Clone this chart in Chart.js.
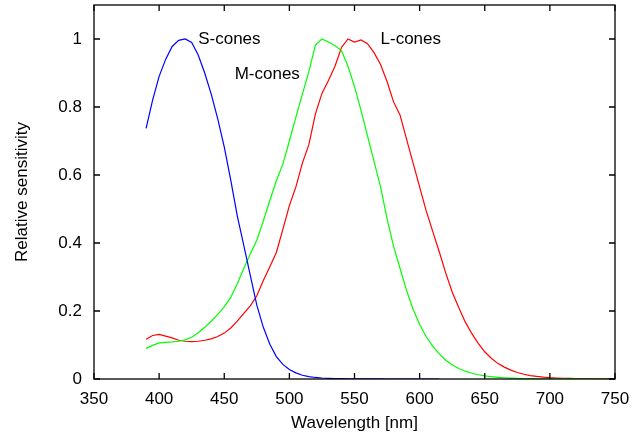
<!DOCTYPE html>
<html>
<head>
<meta charset="utf-8">
<script src="https://cdn.jsdelivr.net/npm/chart.js@4"></script>
<style>
html,body{margin:0;padding:0;background:#fff;}
#wrap{width:634px;height:440px;}
</style>
</head>
<body>
<div id="wrap"><canvas id="c" width="634" height="440"></canvas></div>
<script>
// Wavelengths in nm
const wavelengths = [390,395,400,405,410,415,420,425,430,435,440,445,450,455,460,465,470,475,480,485,490,495,500,505,510,515,520,525,530,535,540,545,550,555,560,565,570,575,580,585,590,595,600,605,610,615,620,625,630,635,640,645,650,655,660,665,670,675,680,685,690,695,700,705,710,715,720,725,730,735,740,745,750];

// S-cones (blue), ends at 615 nm
const sCones = [0.737,0.820,0.890,0.940,0.978,0.996,1.000,0.990,0.953,0.900,0.838,0.765,0.683,0.585,0.480,0.393,0.305,0.217,0.152,0.102,0.066,0.043,0.028,0.018,0.011,0.007,0.0045,0.003,0.002,0.0013,0.0009,0.0006,0.0004,0.0003,0.0002,0.00015,0.0001,0.00007,0.00005,0.00004,0.00003,0.00002,0.00001,0.00001,0.00001,0.00001];

// M-cones (green)
const mCones = [0.090,0.099,0.106,0.108,0.109,0.111,0.115,0.123,0.136,0.152,0.170,0.190,0.212,0.240,0.280,0.325,0.368,0.408,0.465,0.525,0.583,0.632,0.700,0.770,0.838,0.905,0.982,1.000,0.991,0.980,0.966,0.920,0.860,0.790,0.715,0.640,0.565,0.472,0.390,0.325,0.260,0.205,0.160,0.125,0.097,0.074,0.055,0.042,0.031,0.023,0.017,0.0125,0.009,0.0067,0.005,0.0037,0.0027,0.002,0.0015,0.0011,0.0008,0.0006,0.00045,0.00033,0.00025,0.00018,0.00013,0.0001,0.00007,0.00005,0.00004,0.00003,0.00002];

// L-cones (red)
const lCones = [0.117,0.128,0.131,0.126,0.121,0.114,0.111,0.110,0.111,0.114,0.118,0.125,0.135,0.150,0.170,0.193,0.215,0.245,0.290,0.330,0.372,0.440,0.510,0.565,0.635,0.690,0.780,0.840,0.878,0.920,0.975,1.000,0.991,0.997,0.986,0.960,0.925,0.875,0.815,0.776,0.705,0.635,0.565,0.495,0.435,0.375,0.312,0.256,0.210,0.168,0.134,0.105,0.080,0.061,0.046,0.035,0.026,0.019,0.014,0.010,0.0075,0.0055,0.004,0.003,0.0022,0.0016,0.0012,0.0009,0.0007,0.0005,0.0004,0.0003,0.0002];

// Curve labels
const labelTexts = ["S-cones","M-cones","L-cones"];
const labelX = [430, 458, 570];
const labelY = [1.0, 0.897, 1.0];

const xTicks = [350,400,450,500,550,600,650,700,750];
const yTicks = [0,0.2,0.4,0.6,0.8,1];

function pts(vals){
  const out=[];
  for(let i=0;i<vals.length && i<wavelengths.length;i++){
    if(vals[i]!=null) out.push({x:wavelengths[i], y:vals[i]});
  }
  return out;
}

const FONT = "'Liberation Sans', Arial, Helvetica, sans-serif";

const framePlugin = {
  id:'frame',
  afterDatasetsDraw(chart){
    const {ctx, chartArea:a, scales:{x,y}} = chart;
    ctx.save();
    ctx.strokeStyle = '#000';
    ctx.lineWidth = 1.3;
    ctx.strokeRect(a.left, a.top, a.right-a.left, a.bottom-a.top);
    const L = 6;
    ctx.beginPath();
    xTicks.forEach(v=>{
      const px = x.getPixelForValue(v);
      ctx.moveTo(px, a.bottom); ctx.lineTo(px, a.bottom-L);
      ctx.moveTo(px, a.top); ctx.lineTo(px, a.top+L);
    });
    yTicks.forEach(v=>{
      const py = y.getPixelForValue(v);
      ctx.moveTo(a.left, py); ctx.lineTo(a.left+L, py);
      ctx.moveTo(a.right, py); ctx.lineTo(a.right-L, py);
    });
    ctx.stroke();
    ctx.fillStyle = '#000';
    ctx.font = "17px " + FONT;
    ctx.textAlign = 'left';
    ctx.textBaseline = 'middle';
    labelTexts.forEach((t,i)=>{
      ctx.fillText(t, x.getPixelForValue(labelX[i]), y.getPixelForValue(labelY[i]));
    });
    ctx.restore();
  }
};

new Chart(document.getElementById('c'), {
  type:'scatter',
  data:{
    datasets:[
      {label:'S-cones', data:pts(sCones), showLine:true, borderColor:'#0000ff', borderWidth:1.2, pointRadius:0, fill:false, tension:0},
      {label:'M-cones', data:pts(mCones), showLine:true, borderColor:'#00ff00', borderWidth:1.2, pointRadius:0, fill:false, tension:0},
      {label:'L-cones', data:pts(lCones), showLine:true, borderColor:'#ff0000', borderWidth:1.2, pointRadius:0, fill:false, tension:0}
    ]
  },
  options:{
    responsive:false,
    animation:false,
    events:[],
    layout:{padding:{left:0, right:19, top:5, bottom:0}},
    plugins:{legend:{display:false}, tooltip:{enabled:false}},
    scales:{
      x:{
        type:'linear', min:350, max:750,
        afterBuildTicks:(s)=>{ s.ticks = xTicks.map(v=>({value:v})); },
        afterFit:(s)=>{ s.height = 61; s.paddingLeft = 0; s.paddingRight = 0; },
        grid:{display:false, drawTicks:false},
        border:{display:false},
        ticks:{color:'#000', font:{family:FONT, size:17}, padding:10, maxRotation:0},
        title:{display:true, text:'Wavelength [nm]', color:'#000', font:{family:FONT, size:17}, padding:{top:0, bottom:6}}
      },
      y:{
        type:'linear', min:0, max:1.1,
        afterBuildTicks:(s)=>{ s.ticks = yTicks.map(v=>({value:v})); },
        afterFit:(s)=>{ s.width = 94; s.paddingTop = 0; s.paddingBottom = 0; },
        grid:{display:false, drawTicks:false},
        border:{display:false},
        ticks:{color:'#000', font:{family:FONT, size:17}, padding:12, callback:(v)=>String(Math.round(v*10)/10)},
        title:{display:true, text:'Relative sensitivity', color:'#000', font:{family:FONT, size:17}, padding:{top:12, bottom:0}}
      }
    }
  },
  plugins:[framePlugin]
});
</script>
</body>
</html>
